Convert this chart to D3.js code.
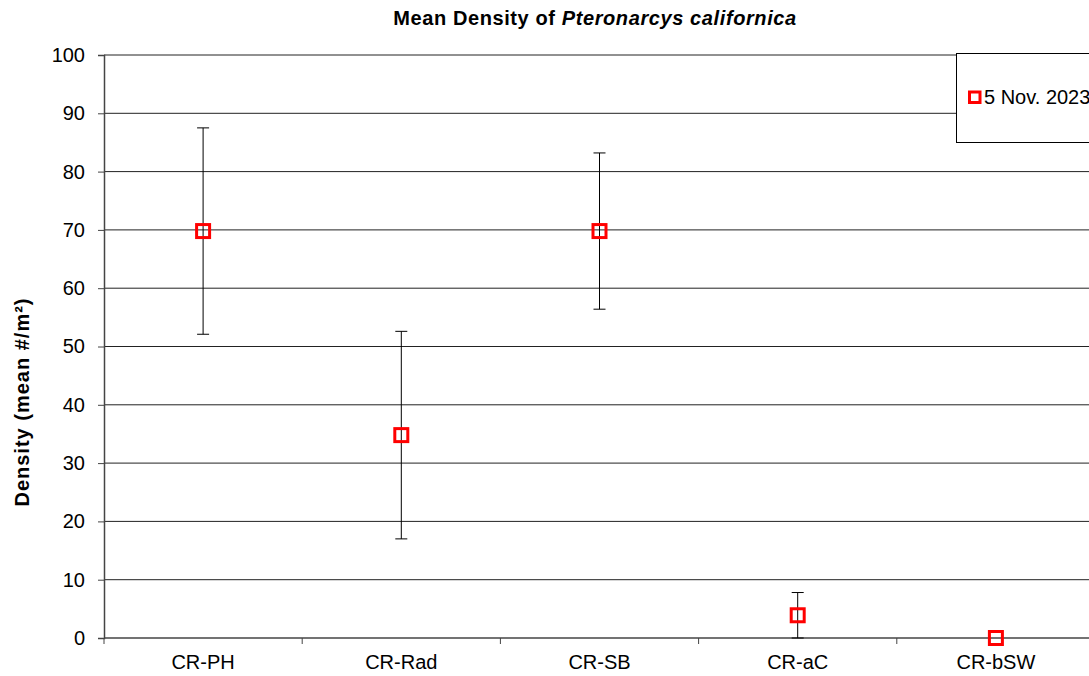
<!DOCTYPE html>
<html>
<head>
<meta charset="utf-8">
<script src="https://cdn.jsdelivr.net/npm/d3@7"></script>
<style>
  body { margin: 0; background: #fff; overflow: hidden; }
  text { font-family: Arial, "Liberation Sans", sans-serif; }
</style>
</head>
<body>
<div id="chart"></div>
<script>
// chart data
const sites = ["CR-PH", "CR-Rad", "CR-SB", "CR-aC", "CR-bSW"];
const meanDensity = [69.8, 34.8, 69.8, 3.9, 0];
const errDensity = [17.7, 17.8, 13.4, 3.9, 0];
const yTicks = [0, 10, 20, 30, 40, 50, 60, 70, 80, 90, 100];
const seriesName = "5 Nov. 2023";

const W = 1089, H = 676;
const margin = { left: 104, top: 55, right: -6, bottom: 38 };
const FONT = "20px";

const svg = d3.select("#chart").append("svg")
  .attr("width", W).attr("height", H);

const x = d3.scaleBand()
  .domain(sites)
  .range([margin.left, W - margin.right]);

const y = d3.scaleLinear()
  .domain([0, 100])
  .range([H - margin.bottom, margin.top]);

// gridlines
svg.append("g")
  .selectAll("line")
  .data(yTicks.filter(d => d > 0))
  .enter().append("line")
  .attr("x1", margin.left).attr("x2", W - margin.right)
  .attr("y1", d => y(d)).attr("y2", d => y(d))
  .style("stroke", "#222").style("stroke-width", 1);

// y axis
const yAxis = svg.append("g")
  .attr("transform", `translate(${margin.left},0)`)
  .call(d3.axisLeft(y).tickValues(yTicks).tickSize(6).tickPadding(13));
yAxis.select(".domain").style("stroke", "#444").style("stroke-width", 1.5);
yAxis.selectAll(".tick line").style("stroke", "#444");
yAxis.selectAll("text").style("font-size", FONT).style("fill", "#000");

// x axis (ticks between categories)
const xAxis = svg.append("g")
  .attr("transform", `translate(0,${y(0)})`);
xAxis.append("line")
  .attr("x1", margin.left).attr("x2", W)
  .style("stroke", "#444").style("stroke-width", 1.5);
xAxis.selectAll("line.sep")
  .data(sites)
  .enter().append("line")
  .attr("class", "sep")
  .attr("x1", d => x(d)).attr("x2", d => x(d))
  .attr("y1", 0).attr("y2", 6)
  .style("stroke", "#444");
xAxis.selectAll("text")
  .data(sites)
  .enter().append("text")
  .attr("x", d => x(d) + x.bandwidth() / 2)
  .attr("y", 31)
  .attr("text-anchor", "middle")
  .style("font-size", FONT)
  .text(d => d);

// error bars
const bars = svg.append("g");
sites.forEach((s, i) => {
  if (errDensity[i] <= 0) return;
  const cx = x(s) + x.bandwidth() / 2;
  const lo = Math.max(0, meanDensity[i] - errDensity[i]);
  const hi = meanDensity[i] + errDensity[i];
  bars.append("line")
    .attr("x1", cx).attr("x2", cx)
    .attr("y1", y(lo)).attr("y2", y(hi))
    .style("stroke", "#000");
  [lo, hi].forEach(v => {
    bars.append("line")
      .attr("x1", cx - 6).attr("x2", cx + 6)
      .attr("y1", y(v)).attr("y2", y(v))
      .style("stroke", "#000");
  });
});

// markers
svg.append("g")
  .selectAll("rect")
  .data(sites)
  .enter().append("rect")
  .attr("x", d => x(d) + x.bandwidth() / 2 - 6.5)
  .attr("y", (d, i) => y(meanDensity[i]) - 6.5)
  .attr("width", 13).attr("height", 13)
  .style("fill", "none")
  .style("stroke", "#ff0000")
  .style("stroke-width", 3);

// legend
const lg = svg.append("g");
lg.append("rect")
  .attr("x", 956.5).attr("y", 53.5)
  .attr("width", 200).attr("height", 89)
  .style("fill", "#fff").style("stroke", "#000");
lg.append("rect")
  .attr("x", 969.5).attr("y", 92)
  .attr("width", 10.5).attr("height", 10.5)
  .style("fill", "none").style("stroke", "#ff0000").style("stroke-width", 3);
lg.append("text")
  .attr("x", 984).attr("y", 104)
  .style("font-size", FONT)
  .text(seriesName);

// title
const title = svg.append("text")
  .attr("x", 595).attr("y", 24.5)
  .attr("text-anchor", "middle")
  .style("font-size", FONT)
  .style("letter-spacing", "0.6px")
  .style("font-weight", "bold");
title.append("tspan").text("Mean Density of ");
title.append("tspan").style("font-style", "italic").text("Pteronarcys californica");

// y axis title
svg.append("text")
  .attr("transform", `translate(29,402) rotate(-90)`)
  .attr("text-anchor", "middle")
  .style("font-size", FONT)
  .style("letter-spacing", "1px")
  .style("font-weight", "bold")
  .text("Density (mean #/m²)");
</script>
</body>
</html>
